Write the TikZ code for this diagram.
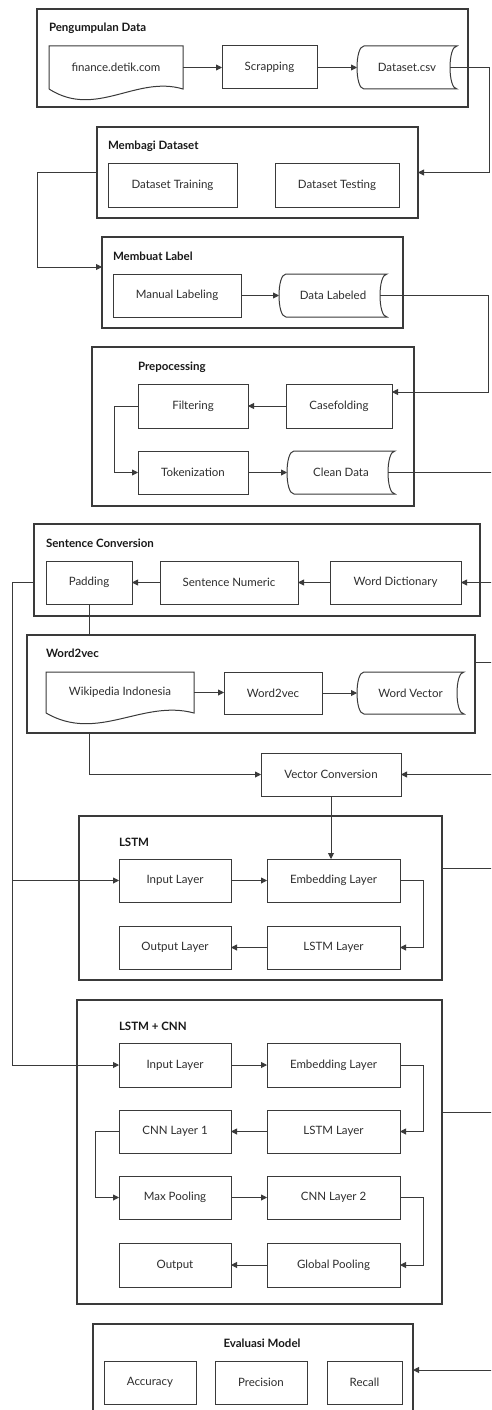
\documentclass[tikz,border=0pt]{standalone}
\usepackage{fontspec}
\setmainfont{Lato}
\usetikzlibrary{arrows.meta,calc}
\definecolor{lc}{HTML}{3A3A3A}
\definecolor{tc}{HTML}{2E2E2E}
\tikzset{
 grp/.style={draw=lc, line width=1.1pt, inner sep=0pt, outer sep=0pt},
 bx/.style={draw=lc, line width=1pt, inner sep=0pt, outer sep=0pt, font=\fontsize{11.5}{13}\selectfont, text=tc},
 plain/.style={draw=none, inner sep=0pt, outer sep=0pt, font=\fontsize{11.5}{13}\selectfont, text=tc},
 ttl/.style={inner sep=0pt, outer sep=0pt, font=\bfseries\fontsize{11.5}{13}\selectfont, text=black!90, anchor=west},
 ln/.style={draw=lc, line width=0.9pt},
 arr/.style={ln, -{Triangle[length=6pt,width=6pt]}},
 shp/.style={draw=lc, line width=1pt},
}
\newcommand\mkgrp[5]{\node[grp, minimum width={(#4-#2)*1pt}, minimum height={(#5-#3)*1pt}] (#1) at ({(#2+#4)/2},{(#3+#5)/2}) {};}
\newcommand\mkbox[7][bx]{\node[#1, minimum width={(#5-#3)*1pt}, minimum height={(#6-#4)*1pt}] (#2) at ({(#3+#5)/2},{(#4+#6)/2}) {#7};}
\newcommand\stshape[1]{\draw[shp] ($(#1.north west)+(7,0)$) -- (#1.north east) .. controls ($(#1.north east)+(-9.33,0)$) and ($(#1.south east)+(-9.33,0)$) .. (#1.south east) -- ($(#1.south west)+(7,0)$) .. controls ($(#1.south west)+(-2.33,0)$) and ($(#1.north west)+(-2.33,0)$) .. cycle;}
\newcommand\docshape[1]{\draw[shp] (#1.south west) -- (#1.north west) -- (#1.north east) -- (#1.south east) .. controls ($(#1.south east)!0.35!(#1.south west)+(0,-14)$) and ($(#1.south east)!0.65!(#1.south west)+(0,30)$) .. (#1.south west);}
\begin{document}
\begin{tikzpicture}[x=1pt,y=-1pt]
\useasboundingbox (0,0) rectangle (491,1410);
\fill[white] (0,0) rectangle (491,1410);
\clip (0,0) rectangle (491,1410);
\coordinate (R) at (492,0);
\coordinate (Ra) at (489,0);
\coordinate (Rb) at (488,0);
\coordinate (La) at (37,0);
\coordinate (Lb) at (12,0);
% groups
\mkgrp{g1}{37}{9}{468}{107}
\mkgrp{g2}{97}{127}{418}{218}
\mkgrp{g3}{102}{237}{403}{328}
\mkgrp{g4}{92}{347}{414}{506}
\mkgrp{g5}{34}{524}{480}{616}
\mkgrp{g6}{27}{635}{475}{733}
\mkgrp{g7}{79}{816}{442}{980}
\mkgrp{g8}{77}{1000}{442}{1304}
\mkgrp{g9}{93}{1324}{413}{1440}
% titles
\node[ttl] (t1) at (49,28) {Pengumpulan Data};
\node[ttl] (t2) at (108,146) {Membagi Dataset};
\node[ttl] (t3) at (113,256) {Membuat Label};
\node[ttl] (t4) at (138,367) {Prepocessing};
\node[ttl] (t5) at (46,543) {Sentence Conversion};
\node[ttl] (t6) at (46,653) {Word2vec};
\node[ttl] (t7) at (119,842) {LSTM};
\node[ttl] (t8) at (119,1026) {LSTM + CNN};
\node[ttl, anchor=center] (t9) at (262,1343) {Evaluasi Model};
% Pengumpulan Data
\mkbox[plain]{fin}{49}{46}{183}{89}{finance.detik.com}
\docshape{fin}
\mkbox{scr}{222}{46}{317}{89}{Scrapping}
\mkbox[plain]{dcsv}{357}{46}{457}{89}{Dataset.csv}
\stshape{dcsv}
% Membagi Dataset
\mkbox{dtrain}{108}{163}{237}{207}{Dataset Training}
\mkbox{dtest}{275}{163}{399}{207}{Dataset Testing}
% Membuat Label
\mkbox{man}{113}{274}{241}{317}{Manual Labeling}
\mkbox[plain]{dlab}{279}{274}{387}{317}{Data Labeled}
\stshape{dlab}
% Prepocessing
\mkbox{filt}{138}{384}{248}{428}{Filtering}
\mkbox{case}{286}{384}{392}{428}{Casefolding}
\mkbox{tok}{138}{451}{248}{494}{Tokenization}
\mkbox[plain]{clean}{287}{451}{395}{494}{Clean Data}
\stshape{clean}
% Sentence Conversion
\mkbox{pad}{46}{561}{132}{604}{Padding}
\mkbox{snum}{160}{561}{298}{604}{Sentence Numeric}
\mkbox{wdict}{330}{561}{461}{604}{Word Dictionary}
% Word2vec
\mkbox[plain]{wiki}{46}{672}{194}{713}{Wikipedia Indonesia}
\docshape{wiki}
\mkbox{w2v}{224}{672}{322}{714}{Word2vec}
\mkbox[plain]{wvec}{357}{672}{464}{714}{Word Vector}
\stshape{wvec}
\mkbox{vc}{261}{753}{401}{796}{Vector Conversion}
% LSTM
\mkbox{in1}{119}{859}{231}{902}{Input Layer}
\mkbox{emb1}{267}{859}{400}{902}{Embedding Layer}
\mkbox{out1}{119}{926}{231}{969}{Output Layer}
\mkbox{lstm1}{267}{926}{400}{969}{LSTM Layer}
% LSTM + CNN
\mkbox{in2}{119}{1043}{231}{1087}{Input Layer}
\mkbox{emb2}{267}{1043}{400}{1087}{Embedding Layer}
\mkbox{cnn1}{119}{1110}{231}{1153}{CNN Layer 1}
\mkbox{lstm2}{267}{1110}{400}{1153}{LSTM Layer}
\mkbox{maxp}{119}{1176}{231}{1219}{Max Pooling}
\mkbox{cnn2}{267}{1176}{400}{1219}{CNN Layer 2}
\mkbox{outp}{119}{1243}{231}{1287}{Output}
\mkbox{gpool}{267}{1243}{400}{1287}{Global Pooling}
% Evaluasi
\mkbox{acc}{104}{1361}{196}{1404}{Accuracy}
\mkbox{prec}{215}{1361}{307}{1404}{Precision}
\mkbox{rec}{327}{1361}{402}{1404}{Recall}
% connectors
\draw[arr] (fin.east) -- (fin.east -| scr.west);
\draw[arr] (scr.east) -- (scr.east -| dcsv.west);
\draw[arr] ($(dcsv.east)+(-7,0)$) -- (dcsv.east -| Ra) |- (g2.east);
\draw[arr] (g2.west) -- (g2.west -| La) |- ($(g3.north west)+(0,30)$);
\draw[arr] (man.east) -- (man.east -| dlab.west);
\draw[arr] ($(dlab.east)+(-7,0)$) -- (dlab.east -| Rb) |- ($(case.north east)+(0,8)$);
\draw[arr] (case.west) -- (case.west -| filt.east);
\draw[arr] (filt.west) -- ++(-24,0) |- (tok.west);
\draw[arr] (tok.east) -- (tok.east -| clean.west);
\draw[ln] ($(clean.east)+(-7,0)$) -- (clean.east -| R);
\draw[arr] (wdict.east -| R) -- (wdict.east);
\draw[arr] (wdict.west) -- (wdict.west -| snum.east);
\draw[arr] (snum.west) -- (snum.west -| pad.east);
\draw[arr] (g5.west |- pad.west) -| (Lb |- in2.west) -- (in2.west);
\draw[arr] (Lb |- in1.west) -- (in1.west);
\draw[ln] (pad.south) -- (pad.south |- g6.north);
\draw[arr] (pad.south |- g6.south) |- (vc.west);
\draw[arr] (wiki.east) -- (wiki.east -| w2v.west);
\draw[arr] (w2v.east) -- (w2v.east -| wvec.west);
\draw[ln] ($(g6.north east)+(0,27)$) coordinate (c6) -- (c6 -| R);
\draw[arr] (vc.east -| R) -- (vc.east);
\draw[arr] (vc.south) -- (vc.south |- emb1.north);
\draw[arr] (in1.east) -- (in1.east -| emb1.west);
\draw[arr] (emb1.east) -- ++(23,0) |- (lstm1.east);
\draw[arr] (lstm1.west) -- (lstm1.west -| out1.east);
\draw[ln] ($(g7.north east)+(0,52)$) coordinate (c7) -- (c7 -| R);
\draw[arr] (in2.east) -- (in2.east -| emb2.west);
\draw[arr] (emb2.east) -- ++(23,0) |- (lstm2.east);
\draw[arr] (lstm2.west) -- (lstm2.west -| cnn1.east);
\draw[arr] (cnn1.west) -- ++(-24,0) |- (maxp.west);
\draw[arr] (maxp.east) -- (maxp.east -| cnn2.west);
\draw[arr] (cnn2.east) -- ++(23,0) |- (gpool.east);
\draw[arr] (gpool.west) -- (gpool.west -| outp.east);
\draw[ln] ($(g8.north east)+(0,112)$) coordinate (c8) -- (c8 -| R);
\coordinate (e9) at (492,1370);
\draw[arr] (e9) -- (e9 -| g9.east);
\end{tikzpicture}
\end{document}
